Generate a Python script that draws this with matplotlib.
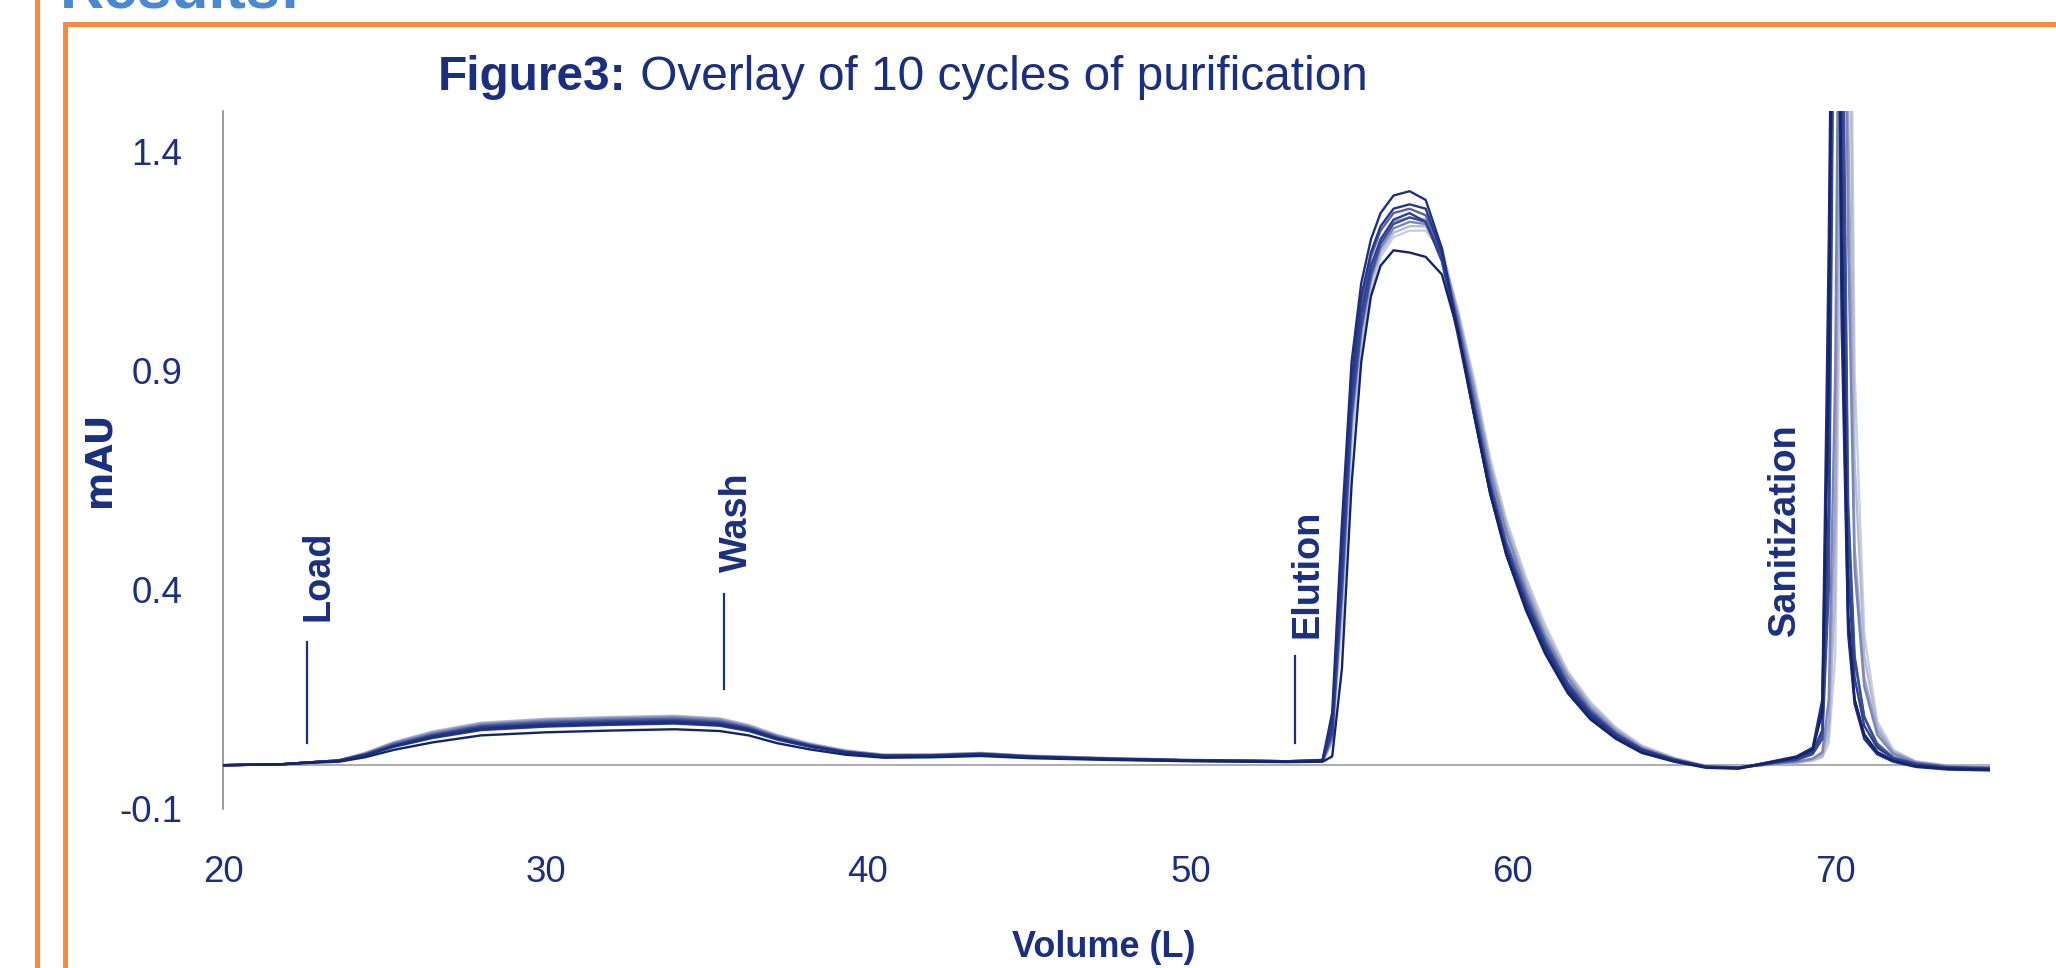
import matplotlib
matplotlib.use("Agg")
import matplotlib.pyplot as plt
from matplotlib import font_manager
from matplotlib.lines import Line2D

# volume grid (L) shared by all cycles
volume = [20, 21.8, 22.6, 23.6, 24.4, 25.3, 26.5, 28, 30, 32, 34, 35.4, 36.3, 37.2, 38.2, 39.3, 40.5, 42,
          43.5, 45, 47.5, 50, 53,
          54.1, 54.4, 54.7, 55.0, 55.3, 55.6, 55.9, 56.3, 56.8, 57.3, 57.8, 58.3, 58.8, 59.3, 59.8, 60.4,
          61.0, 61.7, 62.4, 63.2, 64.0, 65.0,
          66.0, 67.0, 68.0, 68.8, 69.3, 69.6, 69.8, 70.0, 70.2, 70.4, 70.6, 70.9, 71.3, 71.8, 72.5, 73.5, 74.8]

# absorbance (mAU) of each cycle
cycle_1 = [0.000, 0.002, 0.005, 0.008, 0.018, 0.035, 0.052, 0.068, 0.075, 0.079, 0.082, 0.078, 0.068, 0.050, 0.036, 0.024, 0.017, 0.018, 0.021, 0.016, 0.012, 0.009, 0.007,
           0.008, 0.02, 0.22, 0.64, 0.92, 1.07, 1.14, 1.175, 1.17, 1.16, 1.12, 0.99, 0.80, 0.62, 0.48, 0.355, 0.255, 0.165, 0.105, 0.06, 0.028, 0.008,
           -0.006, -0.008, 0.006, 0.018, 0.035, 0.12, 0.9, 2.8, 1.2, 0.35, 0.15, 0.07, 0.03, 0.01, -0.002, -0.008, -0.01]
cycle_2 = [0.000, 0.002, 0.006, 0.010, 0.022, 0.043, 0.064, 0.082, 0.090, 0.094, 0.097, 0.092, 0.080, 0.060, 0.043, 0.029, 0.021, 0.021, 0.025, 0.019, 0.014, 0.011, 0.009,
           0.012, 0.12, 0.55, 0.92, 1.10, 1.20, 1.26, 1.30, 1.31, 1.29, 1.18, 0.99, 0.80, 0.62, 0.48, 0.36, 0.26, 0.17, 0.11, 0.062, 0.03, 0.01,
           -0.005, -0.007, 0.008, 0.02, 0.04, 0.15, 1.2, 2.6, 1.0, 0.3, 0.14, 0.06, 0.025, 0.008, -0.004, -0.01, -0.012]
cycle_3 = [0.000, 0.002, 0.006, 0.010, 0.023, 0.044, 0.066, 0.085, 0.093, 0.097, 0.100, 0.095, 0.082, 0.061, 0.044, 0.030, 0.021, 0.022, 0.025, 0.019, 0.014, 0.011, 0.009,
           0.011, 0.10, 0.50, 0.88, 1.07, 1.17, 1.23, 1.27, 1.28, 1.27, 1.17, 0.99, 0.81, 0.63, 0.49, 0.37, 0.27, 0.175, 0.115, 0.065, 0.032, 0.011,
           -0.004, -0.006, 0.007, 0.018, 0.036, 0.13, 1.0, 2.7, 1.1, 0.32, 0.15, 0.07, 0.03, 0.01, -0.002, -0.008, -0.01]
cycle_4 = [0.000, 0.002, 0.006, 0.010, 0.022, 0.042, 0.062, 0.080, 0.088, 0.092, 0.095, 0.090, 0.078, 0.058, 0.042, 0.028, 0.020, 0.020, 0.024, 0.018, 0.013, 0.010, 0.008,
           0.010, 0.08, 0.45, 0.84, 1.03, 1.14, 1.20, 1.245, 1.26, 1.24, 1.15, 0.98, 0.80, 0.62, 0.49, 0.37, 0.27, 0.18, 0.12, 0.07, 0.035, 0.012,
           -0.004, -0.006, 0.005, 0.015, 0.03, 0.08, 0.6, 2.6, 1.5, 0.45, 0.2, 0.09, 0.04, 0.015, 0.002, -0.006, -0.008]
cycle_5 = [0.000, 0.002, 0.006, 0.011, 0.024, 0.046, 0.068, 0.088, 0.096, 0.100, 0.103, 0.097, 0.084, 0.062, 0.045, 0.030, 0.022, 0.022, 0.026, 0.020, 0.015, 0.011, 0.009,
           0.010, 0.07, 0.40, 0.80, 1.00, 1.12, 1.19, 1.235, 1.25, 1.24, 1.16, 1.00, 0.82, 0.64, 0.50, 0.38, 0.28, 0.185, 0.12, 0.07, 0.036, 0.013,
           -0.003, -0.005, 0.004, 0.012, 0.025, 0.06, 0.4, 2.2, 2.0, 0.6, 0.25, 0.11, 0.045, 0.016, 0.003, -0.005, -0.007]
cycle_6 = [0.000, 0.002, 0.006, 0.011, 0.025, 0.048, 0.070, 0.090, 0.099, 0.103, 0.106, 0.100, 0.086, 0.064, 0.046, 0.031, 0.022, 0.023, 0.026, 0.020, 0.015, 0.011, 0.009,
           0.010, 0.09, 0.48, 0.86, 1.05, 1.16, 1.22, 1.26, 1.27, 1.255, 1.17, 1.01, 0.83, 0.65, 0.51, 0.39, 0.285, 0.19, 0.125, 0.073, 0.037, 0.013,
           -0.004, -0.006, 0.004, 0.012, 0.026, 0.07, 0.5, 2.4, 1.8, 0.55, 0.24, 0.11, 0.05, 0.018, 0.004, -0.004, -0.006]
cycle_7 = [0.000, 0.002, 0.006, 0.011, 0.026, 0.050, 0.073, 0.093, 0.102, 0.106, 0.109, 0.103, 0.088, 0.066, 0.047, 0.032, 0.023, 0.023, 0.027, 0.021, 0.015, 0.011, 0.009,
           0.009, 0.06, 0.38, 0.78, 0.99, 1.11, 1.18, 1.225, 1.24, 1.235, 1.17, 1.02, 0.85, 0.67, 0.53, 0.40, 0.295, 0.20, 0.13, 0.076, 0.039, 0.014,
           -0.003, -0.005, 0.002, 0.008, 0.015, 0.03, 0.15, 0.9, 2.6, 1.2, 0.45, 0.18, 0.07, 0.025, 0.006, -0.003, -0.006]
cycle_8 = [0.000, 0.002, 0.006, 0.011, 0.027, 0.051, 0.075, 0.095, 0.104, 0.108, 0.111, 0.105, 0.090, 0.067, 0.048, 0.033, 0.023, 0.024, 0.027, 0.021, 0.016, 0.012, 0.009,
           0.009, 0.07, 0.42, 0.81, 1.01, 1.13, 1.20, 1.24, 1.25, 1.245, 1.18, 1.03, 0.86, 0.68, 0.54, 0.41, 0.30, 0.205, 0.135, 0.08, 0.041, 0.015,
           -0.003, -0.005, 0.002, 0.007, 0.014, 0.025, 0.1, 0.6, 2.4, 1.5, 0.5, 0.2, 0.08, 0.03, 0.007, -0.002, -0.005]
cycle_9 = [0.000, 0.002, 0.006, 0.011, 0.027, 0.052, 0.076, 0.096, 0.105, 0.109, 0.112, 0.106, 0.091, 0.068, 0.049, 0.033, 0.024, 0.024, 0.028, 0.021, 0.016, 0.012, 0.009,
           0.009, 0.06, 0.36, 0.76, 0.97, 1.10, 1.17, 1.215, 1.23, 1.23, 1.17, 1.03, 0.87, 0.69, 0.55, 0.42, 0.31, 0.21, 0.14, 0.083, 0.043, 0.016,
           -0.002, -0.004, 0.002, 0.006, 0.012, 0.02, 0.07, 0.4, 2.0, 2.2, 0.7, 0.25, 0.09, 0.03, 0.008, -0.002, -0.004]
cycle_10 = [0.000, 0.002, 0.006, 0.011, 0.028, 0.053, 0.077, 0.097, 0.106, 0.110, 0.113, 0.107, 0.092, 0.069, 0.050, 0.034, 0.024, 0.025, 0.028, 0.022, 0.016, 0.012, 0.009,
            0.008, 0.05, 0.33, 0.73, 0.95, 1.08, 1.16, 1.205, 1.22, 1.22, 1.17, 1.04, 0.88, 0.70, 0.56, 0.43, 0.32, 0.215, 0.145, 0.086, 0.045, 0.017,
            -0.002, -0.004, 0.001, 0.005, 0.01, 0.018, 0.05, 0.25, 1.5, 2.5, 0.9, 0.3, 0.1, 0.035, 0.009, -0.001, -0.004]

cycles = [cycle_1, cycle_2, cycle_3, cycle_4, cycle_5, cycle_6, cycle_7, cycle_8, cycle_9, cycle_10]
cycle_colors = ["#142468", "#1e2f7e", "#25378a", "#2e4090", "#3c4c96",
                "#56649f", "#7b86b6", "#9ca5c7", "#b4bad4", "#c9cddf"]

# phase markers
phase_names = ["Load", "Wash", "Elution", "Sanitization"]
marker_volume = [22.6, 35.55, 53.25, None]
marker_low = [0.05, 0.175, 0.05, None]
marker_high = [0.28, 0.39, 0.25, None]
label_volume = [22.96, 35.94, 53.63, 68.43]
label_bottom = [0.33, 0.44, 0.29, 0.295]

x_ticks = [20, 30, 40, 50, 60, 70]
y_ticks = [-0.1, 0.4, 0.9, 1.4]

navy = "#1a2f80"
orange = "#f68b3f"

names = {f.name for f in font_manager.fontManager.ttflist}
if "Liberation Sans Narrow" in names:
    narrow, k = "Liberation Sans Narrow", 1.0
else:
    narrow, k = "Liberation Sans", 0.88

W, H = 2056, 968
fig = plt.figure(figsize=(W / 100, H / 100), dpi=100)
ax = fig.add_axes([223 / W, 159 / H, (1990 - 223) / W, (857 - 159) / H])

for ys, c in reversed(list(zip(cycles, cycle_colors))):
    ax.plot(volume, ys, color=c, lw=1.7, zorder=3)

ax.axhline(0, color="#a6a6a6", lw=1.3, zorder=1)
ax.set_xlim(20, 74.8)
ax.set_ylim(-0.1, 1.493)
ax.set_xticks(x_ticks)
ax.set_yticks(y_ticks)
ax.set_yticklabels([f"{v:.1f}" for v in y_ticks])
for s in ["top", "right", "bottom"]:
    ax.spines[s].set_visible(False)
ax.spines["left"].set_color("#8c8c8c")
ax.spines["left"].set_linewidth(1.2)
ax.tick_params(axis="both", length=0, labelcolor=navy, labelsize=30 * k)
ax.tick_params(axis="y", pad=29)
ax.tick_params(axis="x", pad=33)
for lab in ax.get_xticklabels() + ax.get_yticklabels():
    lab.set_family(narrow)

for name, mv, lo, hi, lv, lb in zip(phase_names, marker_volume, marker_low, marker_high,
                                    label_volume, label_bottom):
    if mv is not None:
        ax.plot([mv, mv], [lo, hi], color=navy, lw=1.6, zorder=4)
    ax.text(lv, lb, name, rotation=90, ha="center", va="bottom", color=navy,
            fontsize=31 * k, fontweight="bold", family=narrow)

fig.text(99 / W, 1 - 459 / H, "mAU", rotation=90, ha="center", va="center", color=navy,
         fontsize=26.5, fontweight="bold", family="DejaVu Sans")
fig.text(1104 / W, 1 - 957 / H, "Volume (L)", ha="center", va="baseline", color=navy,
         fontsize=29.5 * k, fontweight="bold", family=narrow)

# title: bold lead-in followed by regular text
renderer = fig.canvas.get_renderer()
t1 = fig.text(438 / W, 1 - 90 / H, "Figure3:", va="baseline", color=navy, fontsize=34.4,
              fontweight="bold", family="Liberation Sans")
bb = t1.get_window_extent(renderer=renderer)
fig.text(bb.x1 / W, 1 - 90 / H, " Overlay of 10 cycles of purification", va="baseline",
         color=navy, fontsize=34.4, family="Liberation Sans")

# slide frame pieces
fig.text(60 / W, 1 - 8 / H, "Results:", va="baseline", color="#4a88cf", fontsize=44,
         fontweight="bold", family="Liberation Sans")
fig.add_artist(Line2D([36.5 / W, 36.5 / W], [0, 1], color=orange, lw=3.6))
fig.add_artist(Line2D([64.5 / W, 64.5 / W], [0, 1 - 24 / H], color=orange, lw=3.6))
fig.add_artist(Line2D([64.5 / W, 1], [1 - 24 / H, 1 - 24 / H], color=orange, lw=3.6))

fig.savefig("out.png", dpi=100)
